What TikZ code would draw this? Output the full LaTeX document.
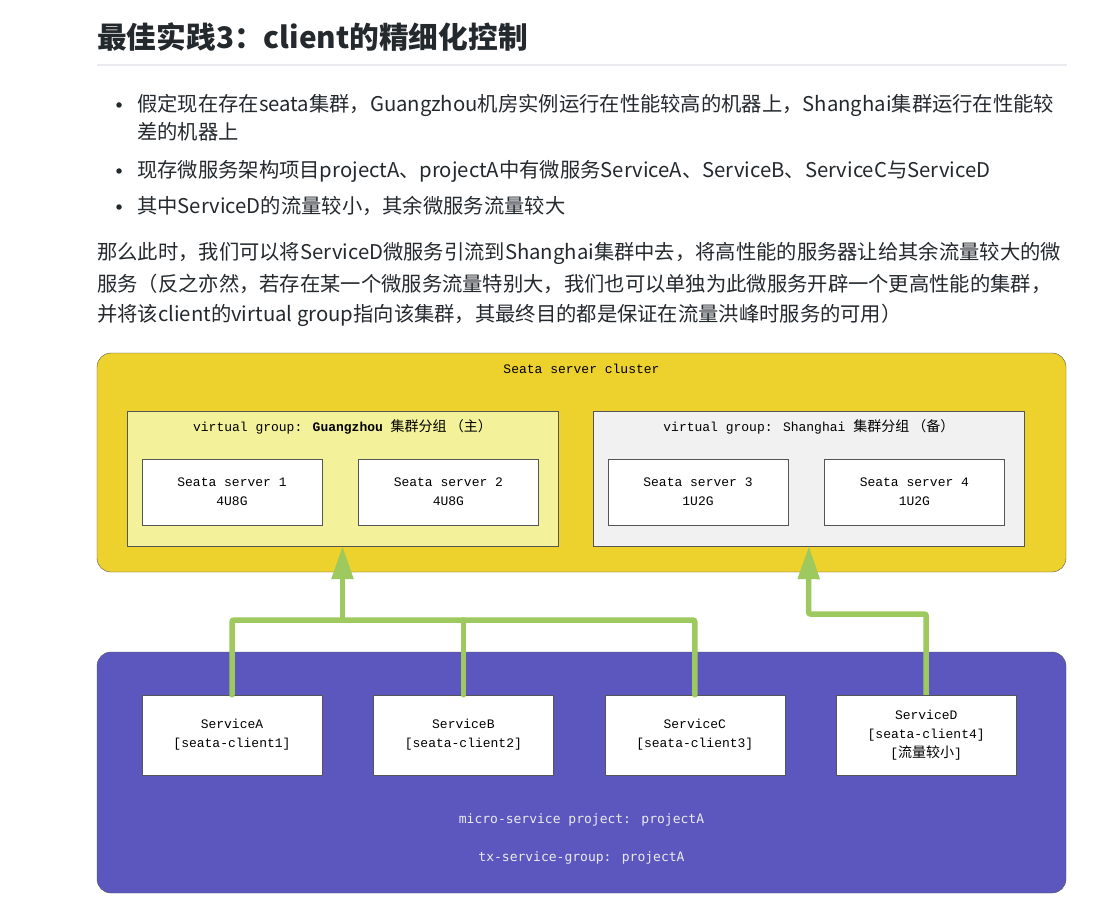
\documentclass[tikz,border=0pt]{standalone}
\usepackage{fontspec}
\usetikzlibrary{arrows.meta, positioning}
\newfontfamily\cjk{Noto Sans CJK SC}
\newfontfamily\diagmono{Liberation Mono}
\newfontfamily\diagsans{DejaVu Sans Mono}
\definecolor{TextDark}{HTML}{24292E}
\definecolor{RuleGray}{HTML}{EAECEF}
\definecolor{ClusterYellow}{HTML}{EDD12D}
\definecolor{GzYellow}{HTML}{F3F19A}
\definecolor{ShGray}{HTML}{F1F1F1}
\definecolor{ProjBlue}{HTML}{5C57BF}
\definecolor{FlowGreen}{HTML}{9DC95E}
\definecolor{BorderGray}{HTML}{555555}

\begin{document}
\begin{tikzpicture}[x=1pt, y=-1pt, >=Stealth,
        heading/.style={anchor=base west, inner sep=0pt, text=TextDark, font=\cjk\bfseries\fontsize{29.7}{34}\selectfont},
        bodyline/.style={anchor=base west, inner sep=0pt, text=TextDark, font=\cjk\fontsize{20.3}{24}\selectfont},
        bulletdot/.style={circle, fill=TextDark, inner sep=0pt, minimum size=5.5pt},
        cluster/.style={draw=BorderGray, fill=ClusterYellow, rounded corners=14pt, minimum width=969pt, minimum height=219pt, inner sep=0pt},
        project/.style={cluster, fill=ProjBlue, minimum height=241pt},
        vgroup/.style={draw=BorderGray, minimum width=431pt, minimum height=135pt, inner sep=0pt},
        server/.style={draw=BorderGray, fill=white, minimum width=180pt, minimum height=66pt, inner sep=0pt, align=center, font=\diagmono\fontsize{13}{19}\selectfont},
        service/.style={server, minimum height=80pt},
        boxtitle/.style={inner sep=0pt, font=\diagmono\fontsize{13}{16}\selectfont},
        projtext/.style={inner sep=0pt, text=white!92!black, font=\diagsans\fontsize{13}{16}\selectfont},
        flow/.style={draw=FlowGreen, line width=5.5pt, rounded corners=2pt, line cap=round},
        flowarrow/.style={flow, line cap=butt, -{Triangle[length=33pt, width=21pt]}}]

    \fill[white] (0,0) rectangle (1109,923);
    \useasboundingbox (0,0) rectangle (1109,923);

    % text above the diagram
    \node[heading] (title) at (97,49) {最佳实践3：client的精细化控制};
    \draw[RuleGray, line width=1.2pt] (97,65) -- (1067,65);

    \node[bulletdot] (dot1) at (119,105) {};
    \node[bodyline] (item1a) at (137,112) {假定现在存在seata集群，Guangzhou机房实例运行在性能较高的机器上，Shanghai集群运行在性能较};
    \node[bodyline] (item1b) at (137,140) {差的机器上};
    \node[bulletdot] (dot2) at (119,171) {};
    \node[bodyline] (item2) at (137,178) {现存微服务架构项目projectA、projectA中有微服务ServiceA、ServiceB、ServiceC与ServiceD};
    \node[bulletdot] (dot3) at (119,207) {};
    \node[bodyline] (item3) at (137,214) {其中ServiceD的流量较小，其余微服务流量较大};

    \node[bodyline] (para1) at (97,259) {那么此时，我们可以将ServiceD微服务引流到Shanghai集群中去，将高性能的服务器让给其余流量较大的微};
    \node[bodyline] (para2) at (97,291) {服务（反之亦然，若存在某一个微服务流量特别大，我们也可以单独为此微服务开辟一个更高性能的集群，};
    \node[bodyline] (para3) at (97,321) {并将该client的virtual group指向该集群，其最终目的都是保证在流量洪峰时服务的可用）};

    % seata server cluster
    \node[cluster] (cluster) at (581.5,462.5) {};
    \node[boxtitle] (clustertitle) at (581.5,369) {Seata server cluster};

    \node[vgroup, fill=GzYellow] (gz) at (342.5,478.5) {};
    \node[boxtitle] (gztitle) at (342.5,427) {virtual group: \textbf{Guangzhou} {\cjk\fontsize{14}{16}\selectfont 集群分组 （主）}};
    \node[vgroup, fill=ShGray, right=35pt of gz] (sh) {};
    \node[boxtitle] (shtitle) at (sh.center |- gztitle) {virtual group: Shanghai {\cjk\fontsize{14}{16}\selectfont 集群分组 （备）}};

    \node[server] (srv1) at (232,492) {Seata server 1\\4U8G};
    \node[server, right=36pt of srv1] (srv2) {Seata server 2\\4U8G};
    \node[server] (srv3) at (698,492) {Seata server 3\\1U2G};
    \node[server, right=36pt of srv3] (srv4) {Seata server 4\\1U2G};

    % micro-service project
    \node[project] (proj) at (581.5,772.5) {};
    \node[service] (svcA) at (232,735) {ServiceA\\{}[seata-client1]};
    \node[service, right=51pt of svcA] (svcB) {ServiceB\\{}[seata-client2]};
    \node[service, right=51pt of svcB] (svcC) {ServiceC\\{}[seata-client3]};
    \node[service, right=51pt of svcC] (svcD) {ServiceD\\{}[seata-client4]\\{}[{\cjk\fontsize{14}{16}\selectfont 流量较小}]};
    \node[projtext] (projname) at (581.5,820) {micro-service project: projectA};
    \node[projtext] (txgroup) at (581.5,858) {tx-service-group: projectA};

    % client traffic
    \coordinate (join) at (342.5,620);
    \coordinate (bendD) at (808.5,614);
    \draw[flow] (svcA.north) |- (join) -| (svcC.north);
    \draw[flow] (svcB.north) -- (svcB.north |- join);
    \draw[flowarrow] (join) -- (gz.south);
    \draw[flowarrow] (svcD.north) |- (bendD) -- (sh.south);
\end{tikzpicture}
\end{document}
